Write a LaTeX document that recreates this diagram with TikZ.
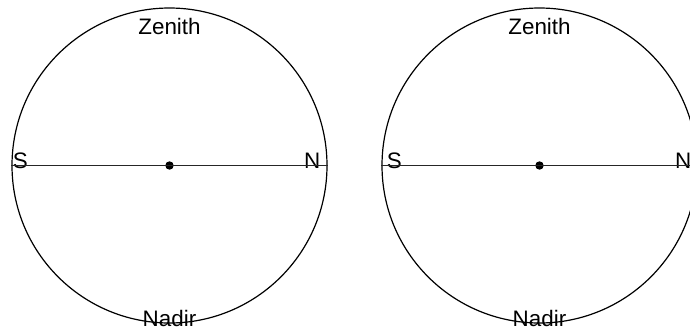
\documentclass[tikz,border=0pt]{standalone}
\usepackage{fontspec}
\setmainfont{Liberation Sans}
\usepackage{tikz}
\usetikzlibrary{positioning}
\usetikzlibrary{calc}
\tikzstyle{sphere} = [circle, draw=black, line width=0.6pt, inner sep=0pt, minimum size=157.5pt]
\tikzstyle{centre} = [circle, fill=black, inner sep=0pt, minimum size=4.2pt]
\tikzstyle{label} = [font=\fontsize{11.2}{13}\selectfont, inner sep=0pt]
\tikzstyle{horizon} = [line width=0.7pt, black!85]

\begin{document}
\begin{tikzpicture}[x=0.5pt, y=0.5pt]
\useasboundingbox (0,0) rectangle (690,329);
\clip (0,0) rectangle (690,329);
% left sphere
\node (S1) [sphere] at (169.5,163.5) {};
\node (C1) [centre] at (S1.center) {};
\node (Z1) [label, anchor=base] at ([yshift=-13.75pt]S1.north) {Zenith};
\node (D1) [label, anchor=base] at ([yshift=-1.5pt]S1.south) {Nadir};
\node (W1) [label, anchor=base west] at ([shift={(0.5pt,-1.5pt)}]S1.west) {S};
\node (E1) [label, anchor=base east] at ([shift={(-3.5pt,-1.5pt)}]S1.east) {N};
\draw [horizon] (S1.west) -- (S1.east);
% right sphere
\node (S2) [sphere] at (539.5,163.5) {};
\node (C2) [centre] at (S2.center) {};
\node (Z2) [label, anchor=base] at ([yshift=-13.75pt]S2.north) {Zenith};
\node (D2) [label, anchor=base] at ([yshift=-1.5pt]S2.south) {Nadir};
\node (W2) [label, anchor=base west] at ([shift={(2.5pt,-1.5pt)}]S2.west) {S};
\node (E2) [label, anchor=base east] at ([shift={(-3pt,-1.5pt)}]S2.east) {N};
\draw [horizon] (S2.west) -- (S2.east);
\end{tikzpicture}
\end{document}
